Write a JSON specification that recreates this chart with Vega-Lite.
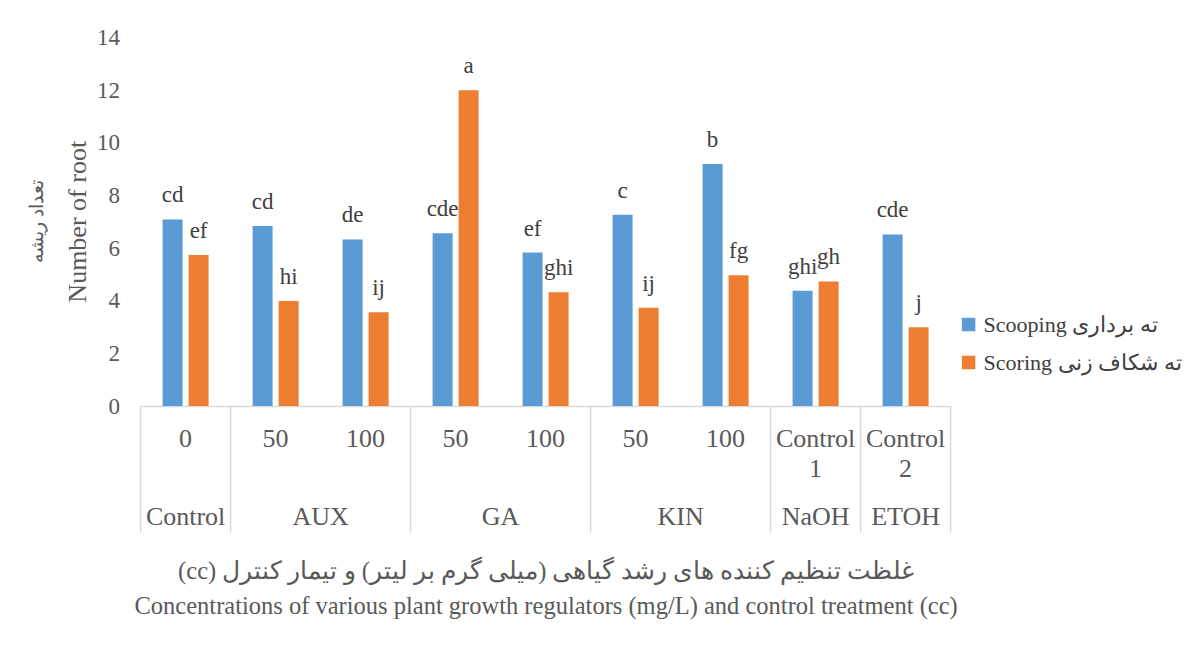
{
  "$schema": "https://vega.github.io/schema/vega-lite/v6.json",
  "width": 810,
  "height": 368.5,
  "autosize": {"type": "none"},
  "padding": {"left": 140.6, "top": 37.5, "right": 247.4, "bottom": 264},
  "background": "white",
  "config": {
    "view": {"stroke": null},
    "font": "Liberation Serif",
    "text": {"font": "Liberation Serif"},
    "legend": {"labelFont": "Liberation Serif"},
    "axisX": {
      "labelAngle": 0,
      "labelFont": "Liberation Serif",
      "labelFontSize": 26,
      "labelColor": "#595959",
      "labelPadding": 19,
      "labelBaseline": "top",
      "labelLineHeight": 30,
      "labelOverlap": false,
      "labelLimit": 0,
      "ticks": false,
      "tickSize": 0,
      "domain": true,
      "domainColor": "#d9d9d9",
      "domainWidth": 1.5,
      "grid": false,
      "titleFont": "Liberation Serif",
      "titleFontSize": 24.5,
      "titleFontWeight": "normal",
      "titleColor": "#595959",
      "titleLineHeight": 35,
      "titleBaseline": "middle",
      "titleY": 165.5
    },
    "axisY": {
      "domain": false,
      "ticks": false,
      "tickSize": 0,
      "grid": false,
      "labelFont": "Liberation Serif",
      "labelFontSize": 23,
      "labelColor": "#595959",
      "labelPadding": 21
    }
  },
  "title": {
    "text": "تعداد ریشه",
    "subtitle": "Number of root",
    "orient": "left",
    "anchor": "middle",
    "font": "Liberation Serif",
    "subtitleFont": "Liberation Serif",
    "fontSize": 19,
    "subtitleFontSize": 26,
    "fontWeight": "normal",
    "color": "#595959",
    "subtitleColor": "#595959",
    "offset": 6,
    "subtitlePadding": 18
  },
  "datasets": {
    "main": [
      {"key": "Control|0", "method": "Scooping", "value": 7.09, "letter": "cd"},
      {"key": "Control|0", "method": "Scoring", "value": 5.74, "letter": "ef"},
      {"key": "AUX|50", "method": "Scooping", "value": 6.84, "letter": "cd"},
      {"key": "AUX|50", "method": "Scoring", "value": 3.99, "letter": "hi"},
      {"key": "AUX|100", "method": "Scooping", "value": 6.33, "letter": "de"},
      {"key": "AUX|100", "method": "Scoring", "value": 3.56, "letter": "ij"},
      {"key": "GA|50", "method": "Scooping", "value": 6.56, "letter": "cde"},
      {"key": "GA|50", "method": "Scoring", "value": 12.0, "letter": "a"},
      {"key": "GA|100", "method": "Scooping", "value": 5.83, "letter": "ef"},
      {"key": "GA|100", "method": "Scoring", "value": 4.32, "letter": "ghi"},
      {"key": "KIN|50", "method": "Scooping", "value": 7.27, "letter": "c"},
      {"key": "KIN|50", "method": "Scoring", "value": 3.73, "letter": "ij"},
      {"key": "KIN|100", "method": "Scooping", "value": 9.19, "letter": "b"},
      {"key": "KIN|100", "method": "Scoring", "value": 4.97, "letter": "fg"},
      {"key": "NaOH|Control 1", "method": "Scooping", "value": 4.38, "letter": "ghi"},
      {"key": "NaOH|Control 1", "method": "Scoring", "value": 4.73, "letter": "gh"},
      {"key": "ETOH|Control 2", "method": "Scooping", "value": 6.52, "letter": "cde"},
      {"key": "ETOH|Control 2", "method": "Scoring", "value": 2.99, "letter": "j"}
    ],
    "groups": [
      {"grp": "Control", "key": "Control|0", "span": 1},
      {"grp": "AUX", "key": "AUX|50", "span": 2},
      {"grp": "GA", "key": "GA|50", "span": 2},
      {"grp": "KIN", "key": "KIN|50", "span": 2},
      {"grp": "NaOH", "key": "NaOH|Control 1", "span": 1},
      {"grp": "ETOH", "key": "ETOH|Control 2", "span": 1}
    ],
    "lastKey": [
      {"key": "ETOH|Control 2"}
    ]
  },
  "layer": [
    {
      "data": {"name": "main"},
      "mark": {"type": "bar"},
      "encoding": {
        "x": {
          "field": "key",
          "type": "nominal",
          "sort": null,
          "scale": {
            "domain": ["Control|0", "AUX|50", "AUX|100", "GA|50", "GA|100", "KIN|50", "KIN|100", "NaOH|Control 1", "ETOH|Control 2"],
            "paddingInner": 0,
            "paddingOuter": 0
          },
          "axis": {
            "title": ["\u202bغلظت تنظیم کننده های رشد گیاهی (میلی گرم بر لیتر) و تیمار کنترل (cc)\u202c", "Concentrations of various plant growth regulators (mg/L) and control treatment (cc)"],
            "labelExpr": "datum.value == 'NaOH|Control 1' ? ['Control','1'] : datum.value == 'ETOH|Control 2' ? ['Control','2'] : split(datum.value,'|')[1]"
          }
        },
        "xOffset": {
          "field": "method",
          "type": "nominal",
          "scale": {"domain": ["Scooping", "Scoring"], "paddingInner": 0.2308, "paddingOuter": 0.846}
        },
        "y": {
          "field": "value",
          "type": "quantitative",
          "scale": {"domain": [0, 14], "nice": false},
          "axis": {
            "title": null,
            "values": [0, 2, 4, 6, 8, 10, 12, 14]
          }
        },
        "color": {
          "field": "method",
          "type": "nominal",
          "scale": {"domain": ["Scooping", "Scoring"], "range": ["#5b9bd5", "#ed7d31"]},
          "legend": {
            "title": null,
            "orient": "none",
            "legendX": 817,
            "legendY": 276,
            "padding": 0,
            "symbolType": "square",
            "symbolSize": 182,
            "symbolStrokeWidth": 0,
            "labelFont": "Liberation Serif",
            "labelFontSize": 22,
            "labelColor": "#404040",
            "labelLimit": 0,
            "labelOffset": 4,
            "rowPadding": 16,
            "labelExpr": "datum.value == 'Scooping' ? 'Scooping ته برداری' : 'Scoring ته شکاف زنی'"
          }
        }
      }
    },
    {
      "data": {"name": "main"},
      "mark": {"type": "text", "baseline": "alphabetic", "align": "center", "dy": -17, "fontSize": 23, "color": "#404040", "font": "Liberation Serif"},
      "encoding": {
        "x": {"field": "key", "type": "nominal", "sort": null},
        "xOffset": {"field": "method", "type": "nominal"},
        "y": {"field": "value", "type": "quantitative"},
        "text": {"field": "letter"}
      }
    },
    {
      "data": {"name": "groups"},
      "mark": {"type": "rule", "color": "#d9d9d9", "strokeWidth": 1.5},
      "encoding": {
        "x": {"field": "key", "type": "nominal", "sort": null, "bandPosition": 0},
        "y": {"datum": 0, "type": "quantitative"},
        "y2": {"datum": -4.8}
      }
    },
    {
      "data": {"name": "lastKey"},
      "mark": {"type": "rule", "color": "#d9d9d9", "strokeWidth": 1.5},
      "encoding": {
        "x": {"field": "key", "type": "nominal", "sort": null, "bandPosition": 1},
        "y": {"datum": 0, "type": "quantitative"},
        "y2": {"datum": -4.8}
      }
    },
    {
      "data": {"name": "groups"},
      "transform": [{"filter": "datum.span == 1"}],
      "mark": {"type": "text", "baseline": "middle", "align": "center", "fontSize": 26, "color": "#595959", "font": "Liberation Serif"},
      "encoding": {
        "x": {"field": "key", "type": "nominal", "sort": null, "bandPosition": 0.5},
        "y": {"datum": -4.2, "type": "quantitative"},
        "text": {"field": "grp"}
      }
    },
    {
      "data": {"name": "groups"},
      "transform": [{"filter": "datum.span == 2"}],
      "mark": {"type": "text", "baseline": "middle", "align": "center", "fontSize": 26, "color": "#595959", "font": "Liberation Serif"},
      "encoding": {
        "x": {"field": "key", "type": "nominal", "sort": null, "bandPosition": 1},
        "y": {"datum": -4.2, "type": "quantitative"},
        "text": {"field": "grp"}
      }
    }
  ]
}
